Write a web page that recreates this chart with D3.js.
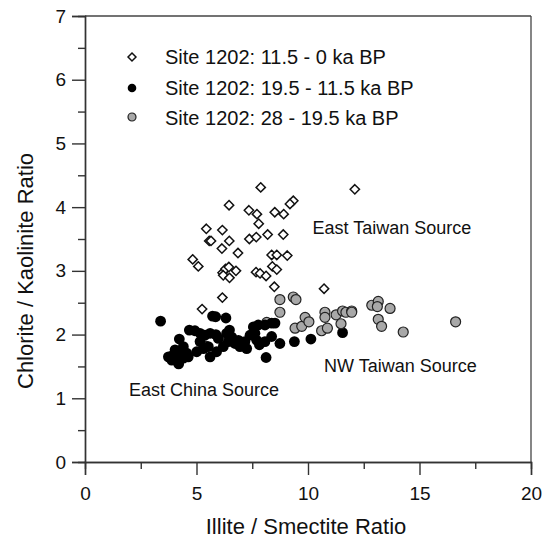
<!DOCTYPE html>
<html>
<head>
<meta charset="utf-8">
<script src="https://cdnjs.cloudflare.com/ajax/libs/d3/7.8.5/d3.min.js"></script>
<style>
  body { margin: 0; background: #fff; }
  text { font-family: "Liberation Sans", Arial, sans-serif; fill: #111; }
</style>
</head>
<body>
<div id="scatter"></div>
<script>
var svgWidth = 546;
var svgHeight = 541;

var margin = { top: 16, right: 15, bottom: 79, left: 85 };

var width = svgWidth - margin.left - margin.right;
var height = svgHeight - margin.top - margin.bottom;

// Site 1202: 11.5 - 0 ka BP (open diamonds)
var holoceneX = [7.88, 12.1, 9.34, 9.19, 6.46, 7.35, 7.71, 8.51, 8.91, 5.44, 6.16, 7.79, 8.19, 8.89,
  5.57, 5.65, 6.47, 7.37, 7.68, 6.14, 6.86, 8.37, 8.60, 9.07, 4.83, 5.08, 6.17, 6.30, 6.45, 6.20,
  6.48, 6.77, 7.67, 7.85, 8.12, 8.40, 8.60, 8.49, 10.72, 6.16, 5.25];
var holoceneY = [4.31, 4.28, 4.10, 4.05, 4.03, 3.95, 3.89, 3.92, 3.89, 3.66, 3.64, 3.74, 3.57, 3.57,
  3.47, 3.47, 3.47, 3.50, 3.53, 3.35, 3.28, 3.25, 3.25, 3.24, 3.18, 3.07, 2.97, 3.03, 3.06, 2.93,
  2.89, 3.00, 2.98, 2.96, 2.92, 3.07, 3.02, 2.75, 2.72, 2.58, 2.40];

// Site 1202: 19.5 - 11.5 ka BP (black circles)
var deglacialX = [3.39, 5.72, 5.86, 6.32, 4.68, 4.93, 5.16, 5.38, 5.61, 5.87, 5.98, 4.23, 6.35, 6.58,
  7.55, 7.77, 8.07, 8.37, 8.52, 7.40, 7.62, 6.88, 6.73, 6.95, 7.17, 7.25, 7.70, 7.82, 8.07, 8.37,
  8.74, 9.39, 10.13, 8.12, 6.20, 6.43, 5.90, 5.61, 5.01, 4.41, 4.04, 3.74, 3.89, 4.19, 4.41, 4.56,
  4.26, 3.96, 4.63, 5.31, 5.53, 5.16, 11.55, 6.48, 4.20];
var deglacialY = [2.21, 2.29, 2.28, 2.26, 2.07, 2.06, 2.02, 1.99, 2.02, 2.00, 1.94, 1.93, 2.02, 1.96,
  2.12, 2.15, 2.15, 2.18, 2.18, 1.99, 2.02, 1.91, 1.86, 1.81, 1.89, 1.78, 1.91, 1.84, 1.89, 1.97,
  1.86, 1.89, 1.93, 1.64, 1.81, 1.89, 1.73, 1.65, 1.73, 1.81, 1.76, 1.65, 1.60, 1.57, 1.63, 1.71,
  1.68, 1.68, 1.65, 1.78, 1.81, 1.89, 2.03, 2.07, 1.54];

// Site 1202: 28 - 19.5 ka BP (grey circles)
var glacialX = [6.38, 8.15, 5.40, 8.74, 9.34, 9.46, 8.74, 9.42, 9.72, 9.87, 10.04, 10.61, 10.87, 10.76,
  10.76, 11.26, 11.48, 11.55, 11.70, 11.96, 11.96, 12.86, 13.15, 13.11, 13.68, 13.15, 13.30, 14.27, 16.62];
var glacialY = [1.93, 2.19, 1.82, 2.55, 2.59, 2.55, 2.35, 2.10, 2.13, 2.27, 2.20, 2.06, 2.10, 2.35,
  2.27, 2.31, 2.17, 2.37, 2.35, 2.37, 2.35, 2.46, 2.52, 2.44, 2.41, 2.24, 2.13, 2.04, 2.20];

var legendLabels = ["Site 1202: 11.5 - 0 ka BP", "Site 1202: 19.5 - 11.5 ka BP", "Site 1202: 28 - 19.5 ka BP"];
var xTicks = [0, 5, 10, 15, 20];
var yTicks = [0, 1, 2, 3, 4, 5, 6, 7];
var xMinorTicks = [2.5, 7.5, 12.5, 17.5];
var yMinorTicks = [0.5, 1.5, 2.5, 3.5, 4.5, 5.5, 6.5];

var sourceLabels = ["East Taiwan Source", "NW Taiwan Source", "East China Source"];
var sourceX = [10.2, 10.72, 1.97];
var sourceY = [3.58, 1.41, 1.04];

var svg = d3.select("#scatter")
  .append("svg")
  .attr("width", svgWidth)
  .attr("height", svgHeight);

var chartGroup = svg.append("g")
  .attr("transform", `translate(${margin.left}, ${margin.top})`);

var xLinearScale = d3.scaleLinear().domain([0, 20]).range([0, width]);
var yLinearScale = d3.scaleLinear().domain([0, 7]).range([height, 0]);

// frame on top and right
chartGroup.append("line")
  .attr("x1", 0).attr("x2", width).attr("y1", 0).attr("y2", 0)
  .attr("stroke", "#444").attr("stroke-width", 1.3);
chartGroup.append("line")
  .attr("x1", width).attr("x2", width).attr("y1", 0).attr("y2", height)
  .attr("stroke", "#444").attr("stroke-width", 1.3);

// minor ticks first
chartGroup.append("g")
  .attr("class", "axis")
  .attr("transform", `translate(0, ${height})`)
  .call(d3.axisBottom(xLinearScale).tickValues(xMinorTicks).tickSize(7).tickFormat(""));
chartGroup.append("g")
  .attr("class", "axis")
  .call(d3.axisLeft(yLinearScale).tickValues(yMinorTicks).tickSize(7).tickFormat(""));

// major ticks
var bottomAxis = d3.axisBottom(xLinearScale).tickValues(xTicks).tickSize(13).tickPadding(12)
  .tickFormat(d3.format("d"));
var leftAxis = d3.axisLeft(yLinearScale).tickValues(yTicks).tickSize(13).tickPadding(6)
  .tickFormat(d3.format("d"));

chartGroup.append("g")
  .attr("class", "axis")
  .attr("transform", `translate(0, ${height})`)
  .call(bottomAxis);

chartGroup.append("g")
  .attr("class", "axis")
  .call(leftAxis);

chartGroup.selectAll(".axis path, .axis line")
  .attr("stroke", "#333")
  .attr("stroke-width", 1.4);
chartGroup.selectAll(".axis text")
  .style("font-size", "19px")
  .style("font-family", "Liberation Sans, Arial, sans-serif")
  .attr("fill", "#111");

// black and grey circles underneath, diamonds on top
var blackData = deglacialX.map((x, i) => ({ x: x, y: deglacialY[i] }));
var greyData = glacialX.map((x, i) => ({ x: x, y: glacialY[i] }));
var diamondData = holoceneX.map((x, i) => ({ x: x, y: holoceneY[i] }));

chartGroup.append("g").selectAll("circle")
  .data(greyData.slice(0, 3))
  .enter()
  .append("circle")
  .attr("cx", d => xLinearScale(d.x))
  .attr("cy", d => yLinearScale(d.y))
  .attr("r", 5)
  .attr("fill", "#a8a8a8")
  .attr("stroke", "#222")
  .attr("stroke-width", 1.2);

chartGroup.append("g").selectAll("circle")
  .data(blackData)
  .enter()
  .append("circle")
  .attr("cx", d => xLinearScale(d.x))
  .attr("cy", d => yLinearScale(d.y))
  .attr("r", 5.4)
  .attr("fill", "#000");

chartGroup.append("g").selectAll("circle")
  .data(greyData.slice(3))
  .enter()
  .append("circle")
  .attr("cx", d => xLinearScale(d.x))
  .attr("cy", d => yLinearScale(d.y))
  .attr("r", 5)
  .attr("fill", "#a8a8a8")
  .attr("stroke", "#222")
  .attr("stroke-width", 1.2);

var diamond = d3.symbol().type(d3.symbolDiamond2).size(55);

chartGroup.append("g").selectAll("path")
  .data(diamondData)
  .enter()
  .append("path")
  .attr("d", diamond)
  .attr("transform", d => `translate(${xLinearScale(d.x)}, ${yLinearScale(d.y)})`)
  .attr("fill", "#fff")
  .attr("stroke", "#111")
  .attr("stroke-width", 1.5);

// Legend
var legend = chartGroup.append("g")
  .attr("transform", "translate(47, 41)");

legend.append("path")
  .attr("d", d3.symbol().type(d3.symbolDiamond2).size(40))
  .attr("fill", "#fff").attr("stroke", "#111").attr("stroke-width", 1.5);
legend.append("circle")
  .attr("cy", 31).attr("r", 4.3).attr("fill", "#000");
legend.append("circle")
  .attr("cy", 60).attr("r", 4).attr("fill", "#a8a8a8")
  .attr("stroke", "#222").attr("stroke-width", 1.2);

legend.selectAll("text")
  .data(legendLabels)
  .enter()
  .append("text")
  .attr("x", 33)
  .attr("y", (d, i) => i * 30.5)
  .attr("dy", "0.35em")
  .style("font-size", "20px")
  .text(d => d);

// Source annotations
chartGroup.selectAll(".source")
  .data(sourceLabels)
  .enter()
  .append("text")
  .attr("class", "source")
  .attr("x", (d, i) => xLinearScale(sourceX[i]))
  .attr("y", (d, i) => yLinearScale(sourceY[i]))
  .style("font-size", "18px")
  .text(d => d);

// Axis titles
chartGroup.append("text")
  .attr("transform", "rotate(-90)")
  .attr("y", 33 - margin.left)
  .attr("x", 0 - 255)
  .style("text-anchor", "middle")
  .style("font-size", "22px")
  .text("Chlorite / Kaolinite Ratio");

chartGroup.append("text")
  .attr("transform", `translate(${xLinearScale(10) - 2}, ${height + 72})`)
  .style("text-anchor", "middle")
  .style("font-size", "22px")
  .text("Illite / Smectite Ratio");
</script>
</body>
</html>
